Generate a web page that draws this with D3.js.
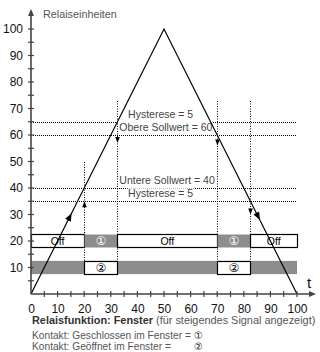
<!DOCTYPE html>
<html>
<head>
  <meta charset="utf-8">
  <title>Relaisfunktion Fenster</title>
  <style>
    body { margin: 0; background: #fff; }
    svg text { font-family: "Liberation Sans", Arial, sans-serif; }
  </style>
</head>
<body>
  <svg width="320" height="352"></svg>
  <script src="https://cdn.jsdelivr.net/npm/d3@7"></script>
  <script>
  // data
  var xTicks = [0, 10, 20, 30, 40, 50, 60, 70, 80, 90, 100];
  var yTicks = [10, 20, 30, 40, 50, 60, 70, 80, 90, 100];
  var signal = [[0, 0], [50, 100], [100, 0]];
  var thresholds = [65, 60, 40, 35];
  var switchTimes = [20, 32.5, 70, 82.5];
  var switchTops = [50, 73, 73, 73];
  var switchArrows = [[20, 35, "up"], [32.5, 57, "down"], [70, 56, "down"], [82.5, 30, "down"]];
  var lineArrows = [[14.5, 29, 1], [85.3, 29.4, -1]];
  var rowClosed = [
    { from: 0, to: 20, label: "Off", on: false },
    { from: 20, to: 32.5, label: "\u2460", on: true },
    { from: 32.5, to: 70, label: "Off", on: false },
    { from: 70, to: 82.5, label: "\u2460", on: true },
    { from: 82.5, to: 100, label: "Off", on: false }
  ];
  var rowOpen = [
    { from: 20, to: 32.5, label: "\u2461" },
    { from: 70, to: 82.5, label: "\u2461" }
  ];
  var labels = [
    { text: "Hysterese = 5", t: 36.5, v: 66.5 },
    { text: "Obere Sollwert = 60", t: 33.2, v: 61.5 },
    { text: "Untere Sollwert = 40", t: 33.2, v: 41.5 },
    { text: "Hysterese = 5", t: 36.5, v: 36.5 }
  ];

  var svg = d3.select("svg");
  var x = d3.scaleLinear().domain([0, 100]).range([31, 297]);
  var y = d3.scaleLinear().domain([0, 100]).range([294, 29]);
  var grey = "#8d8d8d";
  function px(v) { return Math.round(v) + 0.5; }

  // grey band of the lower row
  var rowH = y(17.5) - y(22.5);
  svg.append("rect")
    .attr("x", x(0)).attr("y", y(12.5))
    .attr("width", x(100) - x(0)).attr("height", y(7.5) - y(12.5))
    .attr("fill", grey);

  // dotted threshold lines
  svg.selectAll(".thr").data(thresholds).enter().append("line")
    .attr("x1", x(0)).attr("x2", x(100))
    .attr("y1", function(d) { return px(y(d)); })
    .attr("y2", function(d) { return px(y(d)); })
    .attr("stroke", "#000").attr("stroke-width", 1)
    .attr("stroke-dasharray", "1,1");

  // vertical switch lines
  svg.selectAll(".sw").data(switchTimes).enter().append("line")
    .attr("x1", function(d) { return px(x(d)); })
    .attr("x2", function(d) { return px(x(d)); })
    .attr("y1", function(d, i) { return Math.round(y(switchTops[i])); })
    .attr("y2", Math.round(y(7.5)))
    .attr("stroke", "#000").attr("stroke-width", 1)
    .attr("stroke-dasharray", "1,1.5");

  svg.selectAll(".swa").data(switchArrows).enter().append("path")
    .attr("d", function(d) {
      var cx = px(x(d[0])), cy = y(d[1]);
      var s = d[2] == "up" ? 1 : -1;
      return "M" + cx + "," + cy + "L" + (cx - 2.3) + "," + (cy + 6 * s) + "L" + (cx + 2.3) + "," + (cy + 6 * s) + "Z";
    })
    .attr("fill", "#000");

  // text labels with white background
  labels.forEach(function(l) {
    var t = svg.append("text")
      .attr("x", x(l.t)).attr("y", y(l.v))
      .attr("font-size", 10.5).attr("fill", "#444")
      .text(l.text);
    var b = t.node().getBBox();
    svg.insert("rect", function() { return t.node(); })
      .attr("x", b.x - 0.5).attr("y", b.y + 1)
      .attr("width", b.width + 1).attr("height", b.height - 2)
      .attr("fill", "#fff");
  });

  // upper row (contact closed)
  var upper = svg.selectAll(".c").data(rowClosed).enter().append("g");
  upper.append("rect")
    .attr("x", function(d) { return px(x(d.from)); })
    .attr("y", px(y(22.5)))
    .attr("width", function(d) { return Math.round(x(d.to)) - Math.round(x(d.from)); })
    .attr("height", Math.round(rowH))
    .attr("fill", function(d) { return d.on ? grey : "#fff"; })
    .attr("stroke", function(d) { return d.on ? "none" : "#000"; })
    .attr("stroke-width", 1.2);
  upper.append("text")
    .attr("x", function(d) { return x((d.from + d.to) / 2); })
    .attr("y", y(20) + 4)
    .attr("text-anchor", "middle")
    .attr("font-size", function(d) { return d.on ? 12 : 10.5; })
    .attr("fill", function(d) { return d.on ? "#fff" : "#000"; })
    .style("font-family", function(d) { return d.on ? "DejaVu Sans, Noto Sans CJK JP" : null; })
    .text(function(d) { return d.label; });

  // lower row (contact open)
  var lower = svg.selectAll(".o").data(rowOpen).enter().append("g");
  lower.append("rect")
    .attr("x", function(d) { return px(x(d.from)); })
    .attr("y", px(y(12.5)))
    .attr("width", function(d) { return Math.round(x(d.to)) - Math.round(x(d.from)); })
    .attr("height", Math.round(y(7.5) - y(12.5)))
    .attr("fill", "#fff").attr("stroke", "#000").attr("stroke-width", 1.2);
  lower.append("text")
    .attr("x", function(d) { return x((d.from + d.to) / 2); })
    .attr("y", y(10) + 4)
    .attr("text-anchor", "middle")
    .attr("font-size", 12)
    .style("font-family", "DejaVu Sans, Noto Sans CJK JP")
    .text(function(d) { return d.label; });

  // signal
  svg.append("path")
    .datum(signal)
    .attr("d", d3.line().x(function(d) { return x(d[0]); }).y(function(d) { return y(d[1]); }))
    .attr("fill", "none").attr("stroke", "#000").attr("stroke-width", 1.2);

  svg.selectAll(".la").data(lineArrows).enter().append("path")
    .attr("d", "M4.5,0L-3.5,-3.2L-3.5,3.2Z")
    .attr("transform", function(d) {
      var ang = Math.atan2(y(2 * d[2]) - y(0), x(1) - x(0)) * 180 / Math.PI;
      return "translate(" + x(d[0]) + "," + y(d[1]) + ") rotate(" + ang + ")";
    })
    .attr("fill", "#000");

  // axes
  var yAxis = d3.axisLeft(y).tickValues(yTicks).tickSize(0).tickPadding(8);
  var gy = svg.append("g").attr("transform", "translate(" + x(0) + ",0)").call(yAxis);
  gy.select(".domain").remove();
  gy.selectAll("text").attr("font-size", 12).attr("fill", "#111")
    .style("font-family", "Liberation Sans, Arial, sans-serif");

  var xAxis = d3.axisBottom(x).tickValues(xTicks).tickSize(0).tickPadding(10);
  var gx = svg.append("g").attr("transform", "translate(0," + y(0) + ")").call(xAxis);
  gx.select(".domain").remove();
  gx.selectAll("text").attr("font-size", 12).attr("fill", "#111")
    .style("font-family", "Liberation Sans, Arial, sans-serif");

  var minor = d3.range(5, 101, 5);
  svg.append("line").attr("x1", x(0)).attr("x2", x(0)).attr("y1", y(0)).attr("y2", 14)
    .attr("stroke", "#444").attr("stroke-width", 1.6);
  svg.append("path").attr("d", "M" + x(0) + ",9L" + (x(0) - 3) + ",16L" + (x(0) + 3) + ",16Z").attr("fill", "#444");
  svg.selectAll(".ymt").data(minor).enter().append("line")
    .attr("x1", x(0) - 3).attr("x2", x(0) + 3)
    .attr("y1", function(d) { return y(d); }).attr("y2", function(d) { return y(d); })
    .attr("stroke", "#444").attr("stroke-width", 1.2);

  svg.append("line").attr("x1", x(0)).attr("x2", 311).attr("y1", y(0)).attr("y2", y(0))
    .attr("stroke", "#444").attr("stroke-width", 1.6);
  svg.append("path").attr("d", "M316," + y(0) + "L309," + (y(0) - 3) + "L309," + (y(0) + 3) + "Z").attr("fill", "#444");
  svg.selectAll(".xmt").data(minor).enter().append("line")
    .attr("x1", function(d) { return x(d); }).attr("x2", function(d) { return x(d); })
    .attr("y1", y(0) - 3).attr("y2", y(0) + 3)
    .attr("stroke", "#444").attr("stroke-width", 1.2);

  svg.append("text").attr("x", 43).attr("y", 18).attr("font-size", 10.8).attr("fill", "#555")
    .text("Relaiseinheiten");
  svg.append("text").attr("x", 307).attr("y", 288).attr("font-size", 15).attr("fill", "#111")
    .text("t");

  // caption
  var cap = svg.append("text").attr("x", 32).attr("y", 324).attr("font-size", 10.9).attr("fill", "#555");
  cap.append("tspan").attr("font-weight", "bold").attr("fill", "#333").text("Relaisfunktion: Fenster");
  cap.append("tspan").text(" (für steigendes Signal angezeigt)");

  svg.append("text").attr("x", 32).attr("y", 339).attr("font-size", 10.2).attr("fill", "#555")
    .text("Kontakt: Geschlossen im Fenster =");
  svg.append("text").attr("x", 32).attr("y", 349.5).attr("font-size", 10.2).attr("fill", "#555")
    .text("Kontakt: Geöffnet im Fenster =");
  svg.append("text").attr("x", 194).attr("y", 339).attr("font-size", 10).attr("fill", "#222")
    .style("font-family", "DejaVu Sans, Noto Sans CJK JP").text("\u2460");
  svg.append("text").attr("x", 194).attr("y", 349.5).attr("font-size", 10).attr("fill", "#222")
    .style("font-family", "DejaVu Sans, Noto Sans CJK JP").text("\u2461");
  </script>
</body>
</html>
